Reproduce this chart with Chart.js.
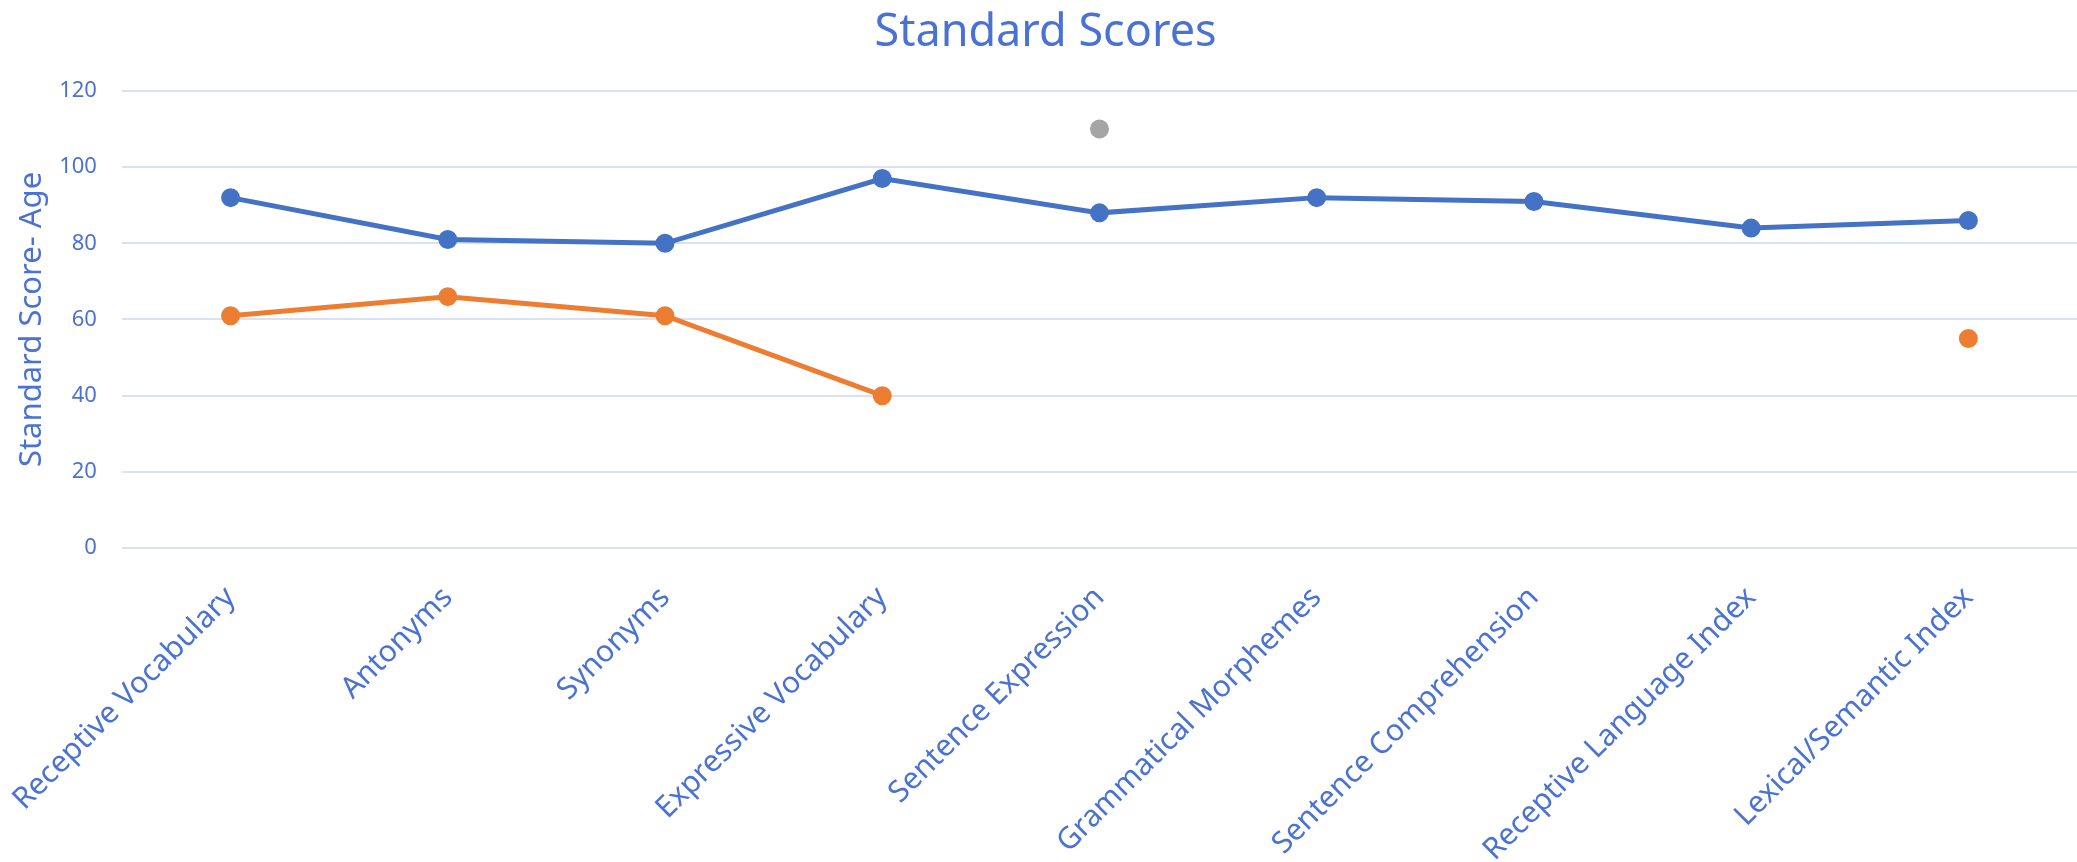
<!DOCTYPE html>
<html>
<head>
<meta charset="utf-8">
<script src="https://cdn.jsdelivr.net/npm/chart.js@4"></script>
<style>
  html, body { margin: 0; padding: 0; background: #fff; }
  #wrap { width: 2077px; height: 862px; }
</style>
</head>
<body>
<div id="wrap"><canvas id="scoreChart"></canvas></div>
<script>
// Subtests along the x axis
const subtests = ['Receptive Vocabulary', 'Antonyms', 'Synonyms', 'Expressive Vocabulary',
    'Sentence Expression', 'Grammatical Morphemes', 'Sentence Comprehension',
    'Receptive Language Index', 'Lexical/Semantic Index'];

// Series values (null = no point)
const blueScores = [92, 81, 80, 97, 88, 92, 91, 84, 86];
const orangeScores = [61, 66, 61, 40, null, null, null, null, 55];
const grayScores = [null, null, null, null, 110, null, null, null, null];

const yMin = 0;
const yMax = 120;
const yStep = 20;

const textBlue = '#4a72d4';
const font = 'Noto Sans, Open Sans, sans-serif';

function initChart() {
    const ctx = document.getElementById('scoreChart');

    new Chart(ctx, {
        type: 'line',
        data: {
            labels: subtests,
            datasets: [
                {
                    label: 'Series 1',
                    data: blueScores,
                    borderColor: '#4472C4',
                    backgroundColor: '#4472C4',
                    borderWidth: 5,
                    pointRadius: 7,
                    tension: 0
                },
                {
                    label: 'Series 2',
                    data: orangeScores,
                    borderColor: '#ED7D31',
                    backgroundColor: '#ED7D31',
                    borderWidth: 5,
                    pointRadius: 7,
                    tension: 0
                },
                {
                    label: 'Series 3',
                    data: grayScores,
                    borderColor: '#A5A5A5',
                    backgroundColor: '#A5A5A5',
                    borderWidth: 5,
                    pointRadius: 7,
                    tension: 0
                }
            ]
        },
        options: {
            responsive: true,
            maintainAspectRatio: false,
            animation: false,
            layout: { autoPadding: false, padding: { top: 4, right: 0, left: 14, bottom: 0 } },
            plugins: {
                legend: { display: false },
                tooltip: { enabled: false },
                title: {
                    display: true,
                    text: 'Standard Scores',
                    color: textBlue,
                    font: { family: font, size: 45, weight: 'normal' },
                    padding: { top: 2, bottom: 31 }
                }
            },
            scales: {
                x: {
                    offset: true,
                    grid: { display: false },
                    border: { display: false },
                    ticks: {
                        color: textBlue,
                        maxRotation: 45,
                        minRotation: 45,
                        autoSkip: false,
                        padding: 24,
                        font: { family: font, size: 30 }
                    },
                    // the rotated labels may run into the margins like in the original
                    afterFit: function (scale) {
                        scale.paddingLeft = 0;
                        scale.paddingRight = 0;
                        scale.height -= 30;
                    }
                },
                y: {
                    min: yMin,
                    max: yMax,
                    border: { display: false },
                    grid: { color: '#d9e1f2', lineWidth: 2, drawTicks: false },
                    ticks: {
                        stepSize: yStep,
                        color: textBlue,
                        padding: 25,
                        font: { family: font, size: 22 }
                    },
                    title: {
                        display: true,
                        text: 'Standard Score- Age',
                        color: textBlue,
                        padding: { top: 0, bottom: 8 },
                        font: { family: font, size: 31 }
                    },
                    // ticks padding is counted twice by Chart.js, take one back
                    afterFit: function (scale) {
                        scale.width -= 25;
                    }
                }
            }
        }
    });
}

initChart();
</script>
</body>
</html>
